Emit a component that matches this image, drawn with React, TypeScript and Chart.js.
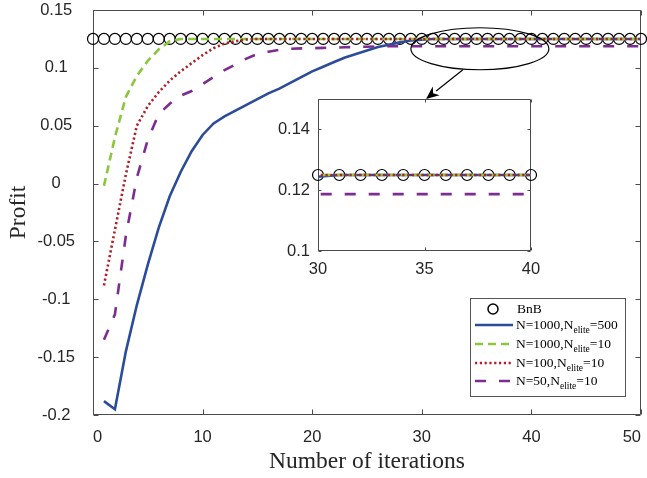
import React, { useEffect, useRef } from "react";
import { Chart, registerables } from "chart.js";
Chart.register(...registerables);

// ---------- data ----------
const iterations = [0, 1, 2, 3, 4, 5, 6, 7, 8, 9, 10, 11, 12, 13, 14, 15, 16, 17, 18, 19, 20, 21, 22, 23, 24, 25, 26, 27, 28, 29, 30, 31, 32, 33, 34, 35, 36, 37, 38, 39, 40, 41, 42, 43, 44, 45, 46, 47, 48, 49, 50];

// BnB optimum (x = 0..50)
const bnbProfit = [0.125, 0.125, 0.125, 0.125, 0.125, 0.125, 0.125, 0.125, 0.125, 0.125, 0.125, 0.125, 0.125, 0.125, 0.125, 0.125, 0.125, 0.125, 0.125, 0.125, 0.125, 0.125, 0.125, 0.125, 0.125, 0.125, 0.125, 0.125, 0.125, 0.125, 0.125, 0.125, 0.125, 0.125, 0.125, 0.125, 0.125, 0.125, 0.125, 0.125, 0.125, 0.125, 0.125, 0.125, 0.125, 0.125, 0.125, 0.125, 0.125, 0.125, 0.125];

// Cross-entropy runs (x = 1..50)
const n1000e500 = [-0.188, -0.195, -0.145, -0.105, -0.070, -0.038, -0.011, 0.010, 0.028, 0.042, 0.052, 0.058, 0.063, 0.068, 0.073, 0.078, 0.082, 0.087, 0.092, 0.097, 0.101, 0.105, 0.109, 0.112, 0.115, 0.118, 0.120, 0.122, 0.1237, 0.1244, 0.125, 0.125, 0.125, 0.125, 0.125, 0.125, 0.125, 0.125, 0.125, 0.125, 0.125, 0.125, 0.125, 0.125, 0.125, 0.125, 0.125, 0.125, 0.125, 0.125];
const n1000e10 = [-0.002, 0.040, 0.075, 0.093, 0.106, 0.116, 0.123, 0.125, 0.125, 0.125, 0.125, 0.125, 0.125, 0.125, 0.125, 0.125, 0.125, 0.125, 0.125, 0.125, 0.125, 0.125, 0.125, 0.125, 0.125, 0.125, 0.125, 0.125, 0.125, 0.125, 0.125, 0.125, 0.125, 0.125, 0.125, 0.125, 0.125, 0.125, 0.125, 0.125, 0.125, 0.125, 0.125, 0.125, 0.125, 0.125, 0.125, 0.125, 0.125, 0.125];
const n100e10 = [-0.088, -0.040, 0.008, 0.050, 0.067, 0.079, 0.089, 0.097, 0.104, 0.111, 0.117, 0.121, 0.123, 0.1245, 0.125, 0.125, 0.125, 0.125, 0.125, 0.125, 0.125, 0.125, 0.125, 0.125, 0.125, 0.125, 0.125, 0.125, 0.125, 0.125, 0.125, 0.125, 0.125, 0.125, 0.125, 0.125, 0.125, 0.125, 0.125, 0.125, 0.125, 0.125, 0.125, 0.125, 0.125, 0.125, 0.125, 0.125, 0.125, 0.125];
const n50e10 = [-0.135, -0.113, -0.045, 0.005, 0.038, 0.060, 0.069, 0.076, 0.080, 0.086, 0.092, 0.098, 0.103, 0.108, 0.112, 0.114, 0.1155, 0.1165, 0.1168, 0.117, 0.1173, 0.1175, 0.1178, 0.118, 0.1183, 0.1185, 0.1187, 0.1187, 0.1187, 0.1187, 0.1187, 0.1187, 0.1187, 0.1187, 0.1187, 0.1187, 0.1187, 0.1187, 0.1187, 0.1187, 0.1187, 0.1187, 0.1187, 0.1187, 0.1187, 0.1187, 0.1187, 0.1187, 0.1187, 0.1187];

const xTicks = [0, 10, 20, 30, 40, 50];
const yTicks = [-0.2, -0.15, -0.1, -0.05, 0, 0.05, 0.1, 0.15];
const insetXTicks = [30, 35, 40];
const insetYTicks = [0.1, 0.12, 0.14];

// legend labels: [main, subscript, tail]
const labelBnB = ["BnB", "", ""];
const label1 = ["N=1000,N", "elite", "=500"];
const label2 = ["N=1000,N", "elite", "=10"];
const label3 = ["N=100,N", "elite", "=10"];
const label4 = ["N=50,N", "elite", "=10"];

// ---------- styles ----------
const series = [
  { label: label1, values: n1000e500, color: "#2b4b9b", dash: [] as number[], order: 4 },
  { label: label2, values: n1000e10, color: "#8cc63f", dash: [8, 5], order: 3 },
  { label: label3, values: n100e10, color: "#b0202a", dash: [2.2, 2.6], order: 2 },
  { label: label4, values: n50e10, color: "#7b2d90", dash: [11, 13], order: 1 },
];

const TICK_FONT = '"Liberation Sans", Arial, Helvetica, sans-serif';
const SERIF = '"Liberation Serif", "Times New Roman", serif';
const AXIS_COLOR = "#4a4a4a";
const TEXT_COLOR = "#262626";

const fmt = (v: number) => String(+(+v).toFixed(2));

function buildDatasets(xMin: number, xMax: number) {
  const bnbData = iterations
    .map((x, i) => ({ x, y: bnbProfit[i] }))
    .filter((p) => p.x >= xMin && p.x <= xMax);
  const ds: any[] = [
    {
      label: "BnB",
      data: bnbData,
      showLine: false,
      borderWidth: 0,
      pointRadius: 5.5,
      pointBorderWidth: 1.2,
      pointBorderColor: "#000",
      pointBackgroundColor: "rgba(0,0,0,0)",
      clip: false,
      order: 5,
    },
  ];
  series.forEach((s) => {
    ds.push({
      label: s.label.join(""),
      data: s.values.map((v, i) => ({ x: iterations[i + 1], y: v })),
      borderColor: s.color,
      borderWidth: 2.6,
      borderDash: s.dash,
      pointRadius: 0,
      tension: 0,
      order: s.order,
    });
  });
  return ds;
}

function boxPlugin(tickLen: number, fillWhite: boolean) {
  return {
    id: "matlabBox",
    beforeDatasetsDraw(chart: any) {
      const { ctx, chartArea: a, scales } = chart;
      const x = scales.x;
      const y = scales.y;
      ctx.save();
      if (fillWhite) {
        ctx.fillStyle = "#fff";
        ctx.fillRect(a.left, a.top, a.right - a.left, a.bottom - a.top);
      }
      ctx.strokeStyle = AXIS_COLOR;
      ctx.lineWidth = 1;
      const L = Math.round(a.left) + 0.5;
      const R = Math.round(a.right) - 0.5;
      const T = Math.round(a.top) + 0.5;
      const B = Math.round(a.bottom) - 0.5;
      ctx.beginPath();
      ctx.rect(L, T, R - L, B - T);
      x.ticks.forEach((t: any) => {
        const px = Math.round(x.getPixelForValue(t.value)) + 0.5;
        ctx.moveTo(px, B);
        ctx.lineTo(px, B - tickLen);
        ctx.moveTo(px, T);
        ctx.lineTo(px, T + tickLen);
      });
      y.ticks.forEach((t: any) => {
        const py = Math.round(y.getPixelForValue(t.value)) + 0.5;
        ctx.moveTo(L, py);
        ctx.lineTo(L + tickLen, py);
        ctx.moveTo(R, py);
        ctx.lineTo(R - tickLen, py);
      });
      ctx.stroke();
      ctx.restore();
    },
  };
}

function drawLabel(ctx: CanvasRenderingContext2D, parts: string[], x: number, y: number) {
  ctx.textBaseline = "middle";
  ctx.textAlign = "left";
  ctx.font = `13.5px ${SERIF}`;
  ctx.fillText(parts[0], x, y);
  let w = ctx.measureText(parts[0]).width;
  if (parts[1]) {
    ctx.font = `9.5px ${SERIF}`;
    ctx.fillText(parts[1], x + w, y + 5);
    w += ctx.measureText(parts[1]).width;
  }
  if (parts[2]) {
    ctx.font = `13.5px ${SERIF}`;
    ctx.fillText(parts[2], x + w, y);
  }
}

const annotationPlugin = {
  id: "annot",
  afterDraw(chart: any) {
    const { ctx, scales } = chart;
    const x = scales.x;
    const y = scales.y;
    ctx.save();
    // ellipse around the converged region
    const cx = x.getPixelForValue(35.3);
    const cy = y.getPixelForValue(0.1165);
    ctx.strokeStyle = "#000";
    ctx.lineWidth = 1.2;
    ctx.beginPath();
    ctx.ellipse(cx, cy, 69, 21, 0, 0, Math.PI * 2);
    ctx.stroke();
    // arrow to the inset
    const sx = cx - 17;
    const sy = cy + 21;
    const ex = 426;
    const ey = 99;
    const ang = Math.atan2(ey - sy, ex - sx);
    const hl = 13;
    const hw = 5.5;
    const bx = ex - hl * Math.cos(ang);
    const by = ey - hl * Math.sin(ang);
    ctx.beginPath();
    ctx.moveTo(sx, sy);
    ctx.lineTo(bx, by);
    ctx.stroke();
    ctx.fillStyle = "#000";
    ctx.beginPath();
    ctx.moveTo(ex, ey);
    ctx.lineTo(bx + hw * Math.sin(ang), by - hw * Math.cos(ang));
    ctx.lineTo(ex - hl * 0.7 * Math.cos(ang), ey - hl * 0.7 * Math.sin(ang));
    ctx.lineTo(bx - hw * Math.sin(ang), by + hw * Math.cos(ang));
    ctx.closePath();
    ctx.fill();

    // legend
    const lx = 470.5;
    const ly = 298.5;
    const lw = 155;
    const lh = 98;
    ctx.fillStyle = "#fff";
    ctx.fillRect(lx, ly, lw, lh);
    ctx.strokeStyle = "#555";
    ctx.lineWidth = 1;
    ctx.strokeRect(lx, ly, lw, lh);
    const rows = [309, 325, 344, 363, 381];
    // BnB row
    ctx.beginPath();
    ctx.lineWidth = 1.5;
    ctx.strokeStyle = "#000";
    ctx.arc(493, rows[0], 5, 0, Math.PI * 2);
    ctx.stroke();
    ctx.fillStyle = "#000";
    drawLabel(ctx, labelBnB, 517, rows[0]);
    series.forEach((s, i) => {
      const ry = rows[i + 1];
      ctx.beginPath();
      ctx.strokeStyle = s.color;
      ctx.lineWidth = 2.6;
      ctx.setLineDash(s.dash);
      ctx.moveTo(475, ry);
      ctx.lineTo(513, ry);
      ctx.stroke();
      ctx.setLineDash([]);
      ctx.fillStyle = "#000";
      drawLabel(ctx, s.label, 516, ry);
    });
    ctx.restore();
  },
};

const INSET = { left: 250, top: 85, width: 300, height: 200 };

const noPadX = (h: number) => (s: any) => {
  s.height = h;
  s.paddingLeft = 0;
  s.paddingRight = 0;
  s.paddingTop = 0;
  s.paddingBottom = 0;
};
const noPadY = (w: number) => (s: any) => {
  s.width = w;
  s.paddingLeft = 0;
  s.paddingRight = 0;
  s.paddingTop = 0;
  s.paddingBottom = 0;
};

export default function App() {
  const mainRef = useRef<HTMLCanvasElement>(null);
  const insetRef = useRef<HTMLCanvasElement>(null);

  useEffect(() => {
    const tickFont = { family: TICK_FONT, size: 16.5 };
    const main = new Chart(mainRef.current as HTMLCanvasElement, {
      type: "line",
      data: { datasets: buildDatasets(0, 50) },
      options: {
        animation: false,
        responsive: false,
        layout: { padding: { top: 10, right: 6, left: 0, bottom: 0 }, autoPadding: false } as any,
        plugins: { legend: { display: false }, tooltip: { enabled: false } },
        scales: {
          x: {
            type: "linear",
            min: 0,
            max: 50,
            afterBuildTicks: (s: any) => {
              s.ticks = xTicks.map((v) => ({ value: v }));
            },
            afterFit: noPadX(63),
            grid: { display: false, drawTicks: false },
            border: { display: false },
            ticks: {
              font: tickFont,
              color: TEXT_COLOR,
              padding: 13,
              align: "inner",
              maxRotation: 0,
              autoSkip: false,
              callback: (v: any) => fmt(v),
            },
            title: {
              display: true,
              text: "Number of iterations",
              font: { family: SERIF, size: 23.5 },
              color: TEXT_COLOR,
              padding: { top: 0, bottom: 2 },
            },
          },
          y: {
            type: "linear",
            min: -0.2,
            max: 0.15,
            afterBuildTicks: (s: any) => {
              s.ticks = yTicks.map((v) => ({ value: v }));
            },
            afterFit: noPadY(93),
            grid: { display: false, drawTicks: false },
            border: { display: false },
            ticks: {
              font: tickFont,
              color: TEXT_COLOR,
              padding: 18,
              crossAlign: "center",
              autoSkip: false,
              callback: (v: any) => fmt(v),
            },
            title: {
              display: true,
              text: "Profit",
              font: { family: SERIF, size: 23.5 },
              color: TEXT_COLOR,
              padding: { top: 5, bottom: 0 },
            },
          },
        },
      },
      plugins: [boxPlugin(5, false), annotationPlugin],
    } as any);

    const inset = new Chart(insetRef.current as HTMLCanvasElement, {
      type: "line",
      data: { datasets: buildDatasets(30, 40) },
      options: {
        animation: false,
        responsive: false,
        layout: { padding: { top: 14, right: 19, left: 0, bottom: 0 }, autoPadding: false } as any,
        plugins: { legend: { display: false }, tooltip: { enabled: false } },
        scales: {
          x: {
            type: "linear",
            min: 30,
            max: 40,
            afterBuildTicks: (s: any) => {
              s.ticks = insetXTicks.map((v) => ({ value: v }));
            },
            afterFit: noPadX(34),
            grid: { display: false, drawTicks: false },
            border: { display: false },
            ticks: {
              font: tickFont,
              color: TEXT_COLOR,
              padding: 9,
              maxRotation: 0,
              autoSkip: false,
              callback: (v: any) => fmt(v),
            },
          },
          y: {
            type: "linear",
            min: 0.1,
            max: 0.15,
            afterBuildTicks: (s: any) => {
              s.ticks = insetYTicks.map((v) => ({ value: v }));
            },
            afterFit: noPadY(68),
            grid: { display: false, drawTicks: false },
            border: { display: false },
            ticks: {
              font: tickFont,
              color: TEXT_COLOR,
              padding: 8,
              autoSkip: false,
              callback: (v: any) => fmt(v),
            },
          },
        },
      },
      plugins: [boxPlugin(3, true)],
    } as any);

    return () => {
      main.destroy();
      inset.destroy();
    };
  }, []);

  return (
    <div style={{ position: "fixed", left: 0, top: 0, width: 647, height: 478, background: "#fff" }}>
      <canvas ref={mainRef} width={647} height={478} style={{ position: "absolute", left: 0, top: 0 }} />
      <canvas
        ref={insetRef}
        width={INSET.width}
        height={INSET.height}
        style={{ position: "absolute", left: INSET.left, top: INSET.top }}
      />
    </div>
  );
}
